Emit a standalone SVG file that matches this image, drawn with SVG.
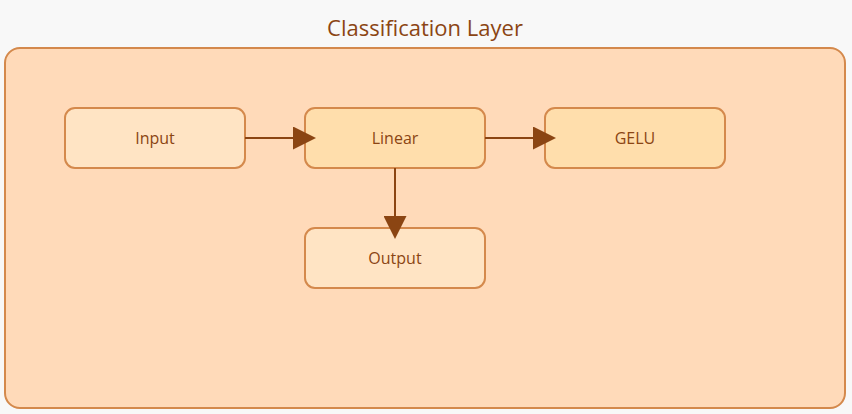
<svg xmlns="http://www.w3.org/2000/svg" width="852" height="414" viewBox="0 0 852 414">
<defs>
<style>
.bg{fill:#f8f8f8}
.outer{fill:#ffdab9;stroke:#d4894c;stroke-width:2}
.light{fill:#ffe4c4;stroke:#d4894c;stroke-width:2}
.dark{fill:#ffdeac;stroke:#d4894c;stroke-width:2}
.lbl{font-family:"Open Sans","Noto Sans","Liberation Sans",sans-serif;font-size:16px;fill:#8b4513;text-anchor:middle;dominant-baseline:central}
.title{font-family:"Open Sans","Noto Sans","Liberation Sans",sans-serif;font-size:22px;fill:#8b4513;text-anchor:middle}
.edge{stroke:#8b4513;stroke-width:2;fill:none}
</style>
<marker id="arr" viewBox="0 0 23 23" refX="12" refY="11.5" markerWidth="23" markerHeight="23" markerUnits="userSpaceOnUse" orient="auto">
<path d="M0,0 L23,11.5 L0,23 Z" fill="#8b4513"/>
</marker>
</defs>
<rect class="bg" x="0" y="0" width="852" height="414"/>
<g id="cluster">
<rect class="outer" x="5" y="48" width="840" height="360" rx="15"/>
<text class="title" x="425" y="36">Classification Layer</text>
</g>
<g id="input">
<rect class="light" x="65" y="108" width="180" height="60" rx="10"/>
<text class="lbl" x="155" y="138">Input</text>
</g>
<g id="linear">
<rect class="dark" x="305" y="108" width="180" height="60" rx="10"/>
<text class="lbl" x="395" y="138">Linear</text>
</g>
<g id="gelu">
<rect class="dark" x="545" y="108" width="180" height="60" rx="10"/>
<text class="lbl" x="635" y="138">GELU</text>
</g>
<g id="output">
<rect class="light" x="305" y="228" width="180" height="60" rx="10"/>
<text class="lbl" x="395" y="258">Output</text>
</g>
<g id="edges">
<line class="edge" x1="245" y1="138" x2="305" y2="138" marker-end="url(#arr)"/>
<line class="edge" x1="485" y1="138" x2="545" y2="138" marker-end="url(#arr)"/>
<line class="edge" x1="395" y1="168" x2="395" y2="228" marker-end="url(#arr)"/>
</g>
</svg>
